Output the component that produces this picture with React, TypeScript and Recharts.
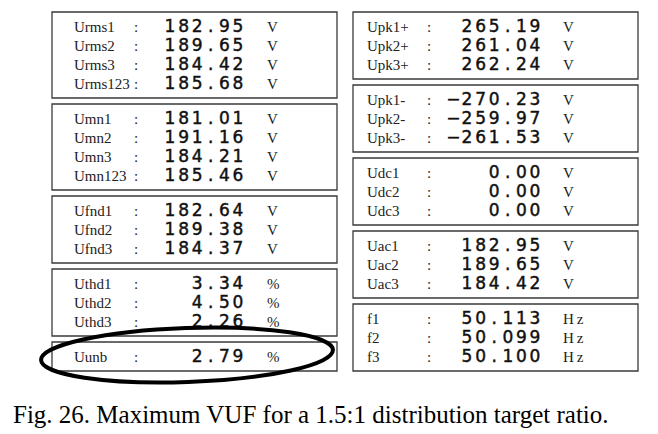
import { Surface, Layer, Rectangle } from "recharts";

// Meter readout groups: labels, values and units
const urmsLabels = ["Urms1", "Urms2", "Urms3", "Urms123"];
const urmsValues = [182.95, 189.65, 184.42, 185.68];
const umnLabels = ["Umn1", "Umn2", "Umn3", "Umn123"];
const umnValues = [181.01, 191.16, 184.21, 185.46];
const ufndLabels = ["Ufnd1", "Ufnd2", "Ufnd3"];
const ufndValues = [182.64, 189.38, 184.37];
const uthdLabels = ["Uthd1", "Uthd2", "Uthd3"];
const uthdValues = [3.34, 4.5, 2.26];
const uunbLabels = ["Uunb"];
const uunbValues = [2.79];

const upkPosLabels = ["Upk1+", "Upk2+", "Upk3+"];
const upkPosValues = [265.19, 261.04, 262.24];
const upkNegLabels = ["Upk1-", "Upk2-", "Upk3-"];
const upkNegValues = [-270.23, -259.97, -261.53];
const udcLabels = ["Udc1", "Udc2", "Udc3"];
const udcValues = [0.0, 0.0, 0.0];
const uacLabels = ["Uac1", "Uac2", "Uac3"];
const uacValues = [182.95, 189.65, 184.42];
const freqLabels = ["f1", "f2", "f3"];
const freqValues = [50.113, 50.099, 50.1];

const caption = "Fig. 26. Maximum VUF for a 1.5:1 distribution target ratio.";

interface Group {
  labels: string[];
  values: number[];
  unit: string;
  digits: number;
}

const leftGroups: Group[] = [
  { labels: urmsLabels, values: urmsValues, unit: "V", digits: 2 },
  { labels: umnLabels, values: umnValues, unit: "V", digits: 2 },
  { labels: ufndLabels, values: ufndValues, unit: "V", digits: 2 },
  { labels: uthdLabels, values: uthdValues, unit: "%", digits: 2 },
  { labels: uunbLabels, values: uunbValues, unit: "%", digits: 2 },
];

const rightGroups: Group[] = [
  { labels: upkPosLabels, values: upkPosValues, unit: "V", digits: 2 },
  { labels: upkNegLabels, values: upkNegValues, unit: "V", digits: 2 },
  { labels: udcLabels, values: udcValues, unit: "V", digits: 2 },
  { labels: uacLabels, values: uacValues, unit: "V", digits: 2 },
  { labels: freqLabels, values: freqValues, unit: "Hz", digits: 3 },
];

const ROW = 19;
const GAP = 6;
const TOP = 12;
const CELL = 13.6; // fixed pitch of the meter's digit font

const SERIF = "'Liberation Serif', 'Times New Roman', serif";
const SANS = "'DejaVu Sans', sans-serif";

// meter display shows a long minus, each char in its own cell
function formatValue(v: number, digits: number) {
  return v.toFixed(digits).replace("-", "\u2212");
}

interface ColumnProps {
  groups: Group[];
  x: number;
  width: number;
  labelX: number;
  colonX: number;
  lastCell: number;
  unitX: number;
}

function Column({ groups, x, width, labelX, colonX, lastCell, unitX }: ColumnProps) {
  let y = TOP;
  return (
    <Layer>
      {groups.map((g, gi) => {
        const h = g.labels.length * ROW + 10;
        const top = y;
        y += h + GAP;
        return (
          <Layer key={gi}>
            <Rectangle
              x={x}
              y={top}
              width={width}
              height={h}
              fill="none"
              stroke="#3a3a3a"
              strokeWidth={1.3}
            />
            {g.labels.map((label, i) => {
              const base = top + 20 + i * ROW;
              const txt = formatValue(g.values[i], g.digits);
              const xs = txt
                .split("")
                .map((_, k) => (lastCell - (txt.length - 1 - k) * CELL).toFixed(1))
                .join(" ");
              return (
                <g key={label}>
                  <text x={labelX} y={base} fontFamily={SERIF} fontSize={15} fill="#222">
                    {label}
                  </text>
                  <text x={colonX} y={base} fontFamily={SERIF} fontSize={15} fill="#222">
                    :
                  </text>
                  <text
                    x={xs}
                    y={base}
                    textAnchor="middle"
                    fontFamily={SANS}
                    fontSize={17}
                    fill="#111"
                    stroke="#111"
                    strokeWidth={0.45}
                  >
                    {txt}
                  </text>
                  <text
                    x={unitX}
                    y={base}
                    fontFamily={SERIF}
                    fontSize={15}
                    letterSpacing={g.unit === "Hz" ? 3 : 0}
                    fill="#222"
                  >
                    {g.unit}
                  </text>
                </g>
              );
            })}
          </Layer>
        );
      })}
    </Layer>
  );
}

export default function App() {
  return (
    <div style={{ position: "fixed", left: 0, top: 0, width: 658, height: 434, background: "#fff" }}>
      <Surface width={658} height={434} viewBox={{ x: 0, y: 0, width: 658, height: 434 }}>
        <Column
          groups={leftGroups}
          x={52}
          width={285}
          labelX={74}
          colonX={134}
          lastCell={238}
          unitX={267}
        />
        <Column
          groups={rightGroups}
          x={353}
          width={285}
          labelX={367}
          colonX={427}
          lastCell={535}
          unitX={563}
        />
        <ellipse
          cx={187}
          cy={355}
          rx={146}
          ry={27}
          fill="none"
          stroke="#000"
          strokeWidth={4}
          transform="rotate(-2 187 355)"
        />
        <text x={13} y={423} fontFamily={SERIF} fontSize={25} fill="#000">
          {caption}
        </text>
      </Surface>
    </div>
  );
}
